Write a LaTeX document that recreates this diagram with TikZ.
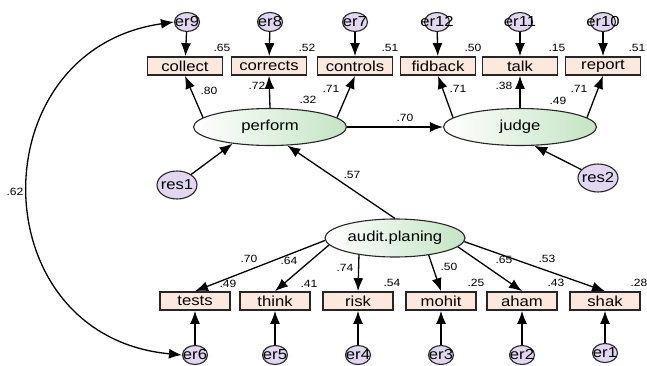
\documentclass[tikz,border=0pt]{standalone}
\usepackage{fontspec}
\setmainfont{Liberation Sans}[FakeStretch=1.15]
\usetikzlibrary{arrows.meta,shapes.geometric}
\definecolor{obsfill}{RGB}{253,232,222}
\definecolor{latgreen}{RGB}{196,228,196}
\definecolor{errfill}{RGB}{226,214,240}

\begin{document}
\begin{tikzpicture}[x=1pt,y=-1pt,
    obs/.style={draw=black!85,line width=1.7pt,fill=obsfill,minimum width=75pt,minimum height=18pt,inner sep=0pt,font=\fontsize{14.5}{16}\selectfont},
    lat/.style={ellipse,draw=black!85,line width=1.1pt,left color=white,right color=latgreen,minimum width=153pt,minimum height=37pt,inner sep=0pt,font=\fontsize{14.5}{16}\selectfont},
    err/.style={ellipse,draw=black!85,line width=1.1pt,fill=errfill,minimum width=25pt,minimum height=19pt,inner sep=0pt,label={[font=\fontsize{14.5}{16}\selectfont]center:#1}},
    res/.style={ellipse,draw=black!85,line width=1.1pt,fill=errfill,minimum width=40pt,minimum height=28pt,inner sep=0pt,label={[font=\fontsize{14.5}{16}\selectfont]center:#1}},
    arr/.style={line width=1.3pt,-{Latex[length=13pt,width=10pt]}},
    cov/.style={line width=1.3pt,{Latex[length=13pt,width=10pt]}-{Latex[length=13pt,width=10pt]}},
    num/.style={font=\fontsize{10.5}{12}\selectfont,inner sep=0pt}]
        \useasboundingbox (0,0) rectangle (647,366);
        %潜变量
        \node[lat] (perform) at (270,127) {perform};
        \node[lat] (judge) at (520,127) {judge};
        \node[lat,minimum width=140pt,minimum height=38pt] (audit) at (395,238) {audit.planing};
        \node[res=res1] (res1) at (177,185) {};
        \node[res=res2] (res2) at (598,178) {};
        %观测变量(上)
        \node[obs] (collect) at (185,66) {collect};
        \node[obs] (corrects) at (269,66) {corrects};
        \node[obs] (controls) at (355,66) {controls};
        \node[obs] (fidback) at (438,66) {fidback};
        \node[obs] (talk) at (520,66) {talk};
        \node[obs] (report) at (603,66) {report};
        %观测变量(下)
        \node[obs,minimum width=70pt] (tests) at (195,301) {tests};
        \node[obs,minimum width=70pt] (think) at (275,301) {think};
        \node[obs,minimum width=70pt] (risk) at (358,301) {risk};
        \node[obs,minimum width=70pt] (mohit) at (441,301) {mohit};
        \node[obs,minimum width=70pt] (aham) at (522,301) {aham};
        \node[obs,minimum width=70pt] (shak) at (605,301) {shak};
        %误差项
        \node[err=er9] (e9) at (187,22) {};
        \node[err=er8] (e8) at (270,22) {};
        \node[err=er7] (e7) at (355,22) {};
        \node[err=er12] (e12) at (437,22) {};
        \node[err=er11] (e11) at (520,22) {};
        \node[err=er10] (e10) at (603,22) {};
        \node[err=er6] (e6) at (195,355) {};
        \node[err=er5] (e5) at (275,355) {};
        \node[err=er4] (e4) at (358,355) {};
        \node[err=er3] (e3) at (441,355) {};
        \node[err=er2] (e2) at (522,355) {};
        \node[err=er1] (e1) at (605,353) {};
        %路径
        \draw[arr] (e9) -- (collect);
        \draw[arr] (e8) -- (corrects);
        \draw[arr] (e7) -- (controls);
        \draw[arr] (e12) -- (fidback);
        \draw[arr] (e11) -- (talk);
        \draw[arr] (e10) -- (report);
        \draw[arr] (perform.172) -- (collect.south);
        \draw[arr] (perform.north) -- (corrects.south);
        \draw[arr] (perform.8) -- (controls.south);
        \draw[arr] (judge.172) -- (fidback.south);
        \draw[arr] (judge.north) -- (talk.south);
        \draw[arr] (judge.8) -- (report.south);
        \draw[arr] (perform.east) -- (judge.west);
        \draw[arr] (res1) -- (perform.204);
        \draw[arr] (res2) -- (judge.307);
        \draw[arr] (audit.north) -- (perform.313);
        \draw[arr] (audit.182) -- (tests.north);
        \draw[arr] (audit.186) -- (think.north);
        \draw[arr] (audit.205) -- (risk.north);
        \draw[arr] (audit.333) -- (mohit.north);
        \draw[arr] (audit.352) -- (aham.north);
        \draw[arr] (audit.357) -- (shak.north);
        \draw[arr] (e6) -- (tests);
        \draw[arr] (e5) -- (think);
        \draw[arr] (e4) -- (risk);
        \draw[arr] (e3) -- (mohit);
        \draw[arr] (e2) -- (aham);
        \draw[arr] (e1) -- (shak);
        %协方差
        \draw[cov] (e9.west) .. controls (-22,50) and (-20,336) .. (e6.west);
        %系数
        \draw (222,48) node[num] (r1) {.65} (307,48) node[num] (r2) {.52} (390,48) node[num] (r3) {.51}
        (473,48) node[num] (r4) {.50} (557,48) node[num] (r5) {.15} (637,48) node[num] (r6) {.51};
        \draw (209,91) node[num] (w1) {.80} (257,86) node[num] (w2) {.72} (331,89) node[num] (w3) {.71}
        (308,100) node[num] (r7) {.32} (458,89) node[num] (w4) {.71} (504,86) node[num] (w5) {.38}
        (558,101) node[num] (r8) {.49} (579,89) node[num] (w6) {.71} (405,118) node[num] (w7) {.70}
        (352,175) node[num] (w8) {.57} (15,192) node[num] (c1) {.62};
        \draw (249,259) node[num] (w9) {.70} (289,261) node[num] (w10) {.64} (345,268) node[num] (w11) {.74}
        (449,267) node[num] (w12) {.50} (504,260) node[num] (w13) {.65} (547,259) node[num] (w14) {.53};
        \draw (228,284) node[num] (r9) {.49} (309,284) node[num] (r10) {.41} (392,283) node[num] (r11) {.54}
        (476,283) node[num] (r12) {.25} (556,283) node[num] (r13) {.43} (639,283) node[num] (r14) {.28};
    \end{tikzpicture}
\end{document}
